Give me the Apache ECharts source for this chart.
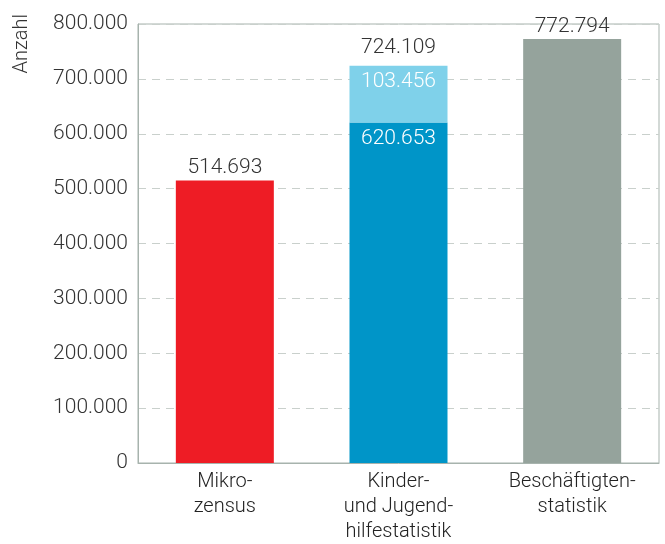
<!DOCTYPE html>
<html>
<head>
<meta charset="utf-8">
<script src="https://cdn.jsdelivr.net/npm/echarts@6/dist/echarts.min.js"></script>
<style>html,body{margin:0;padding:0;background:#fff}#c{width:665px;height:544px}</style>
</head>
<body>
<div id="c"></div>
<script>
const categories = ['Mikro-\nzensus', 'Kinder-\nund Jugend-\nhilfestatistik', 'Beschäftigten-\nstatistik'];
const baseValues = [514693, 620653, 772794];
const topValues = ['-', 103456, '-'];
const totalValues = ['-', 724109, '-'];
const baseColors = ['#ee1c25', '#0095c8', '#95a39c'];
const topColor = '#7fd1ea';
const yTicks = { min: 0, max: 800000, interval: 100000 };

const FONT = 'Roboto';
const fmt = v => v === 0 ? '0' : String(v).replace(/\B(?=(\d{3})+(?!\d))/g, '.');

const chart = echarts.init(document.getElementById('c'));
chart.setOption({
  animation: false,
  textStyle: { fontFamily: FONT },
  grid: { left: 138, right: 6, top: 24, bottom: 78, show: true, borderColor: '#a7b3ad', borderWidth: 1 },
  graphic: [{
    type: 'text', left: 12, top: 14, rotation: Math.PI / 2,
    style: { text: 'Anzahl', font: '300 20px Roboto', fill: '#333' }
  }],
  xAxis: {
    type: 'category', data: categories,
    axisLine: { lineStyle: { color: '#a7b3ad', width: 1 } },
    axisTick: { show: false },
    axisLabel: { color: '#222', fontSize: 20, fontWeight: 300, lineHeight: 25, margin: 6, fontFamily: FONT }
  },
  yAxis: {
    type: 'value', min: yTicks.min, max: yTicks.max, interval: yTicks.interval,
    axisLine: { show: true, lineStyle: { color: '#a7b3ad', width: 1 } },
    axisTick: { show: false },
    splitLine: { lineStyle: { color: '#c9d0cc', type: [8, 6], width: 1 } },
    axisLabel: { color: '#333', fontSize: 21, fontWeight: 300, margin: 10, formatter: fmt, fontFamily: FONT }
  },
  series: [
    {
      type: 'bar', stack: 's', barWidth: 98,
      data: baseValues.map((v, i) => ({
        value: v,
        itemStyle: { color: baseColors[i] },
        label: i === 1
          ? { show: true, position: 'insideTop', distance: 6, color: '#fff' }
          : { show: true, position: 'top', distance: 2, color: '#333' }
      })),
      label: { show: true, fontSize: 21, fontWeight: 300, fontFamily: FONT, formatter: p => fmt(p.value) }
    },
    {
      type: 'bar', stack: 's', barWidth: 98,
      itemStyle: { color: topColor },
      data: topValues,
      label: { show: true, position: 'insideTop', distance: 6, color: '#fff', fontSize: 21, fontWeight: 300, fontFamily: FONT, formatter: p => fmt(p.value) }
    },
    {
      type: 'scatter', symbolSize: 0.01, data: totalValues,
      itemStyle: { opacity: 1 },
      label: { show: true, position: 'top', distance: 7, color: '#333', opacity: 1, fontSize: 21, fontWeight: 300, fontFamily: FONT, formatter: p => fmt(p.value) }
    }
  ]
});
</script>
</body>
</html>
